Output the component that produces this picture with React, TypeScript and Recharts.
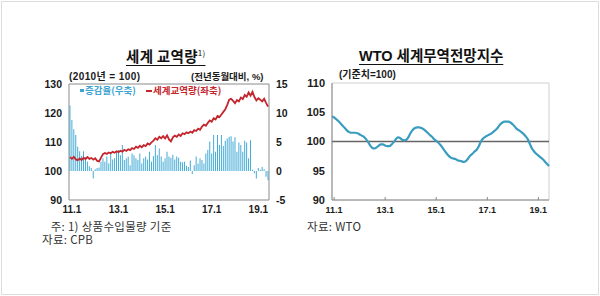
import React from "react";
import {
  ComposedChart,
  LineChart,
  Bar,
  Line,
  XAxis,
  YAxis,
  ReferenceArea,
  ReferenceLine,
} from "recharts";

// Monthly series from 2010.12 to 2019.6
const START_YEAR = 2010;
const START_MONTH = 12;

const tradeVolume: number[] = [
  104.8,
  104.2, 104.9, 104.0, 103.7, 104.3, 103.8, 104.6, 104.1, 104.8, 104.2, 104.5, 103.9,
  104.4, 103.5, 103.3, 104.6, 105.8, 106.2, 105.9, 106.4, 106.1, 106.6, 106.3, 106.8,
  106.5, 107.0, 106.7, 107.3, 106.9, 107.5, 107.2, 107.9, 107.6, 108.4, 108.0, 108.7,
  108.2, 108.9, 108.6, 109.5, 109.1, 109.9, 110.5, 111.3, 110.8, 111.8, 111.3, 112.0,
  111.2, 112.3, 110.9, 110.2, 111.6, 112.2, 111.8, 112.6, 112.1, 113.0, 112.7, 113.3,
  113.0, 113.6, 113.2, 114.1, 113.8, 114.6, 114.2, 115.3, 116.0, 115.6, 116.6, 117.4,
  117.0, 118.2, 117.8, 119.0, 118.6, 119.5, 120.4, 121.3, 122.8, 124.6, 124.9, 124.2,
  123.4, 124.5, 124.0, 125.3, 124.8, 126.2, 125.6, 127.1, 126.0, 127.3, 125.5, 124.3,
  125.1, 124.6, 124.0, 124.9, 123.5, 122.2,
];

const tradeGrowth: number[] = [
  11.3,
  8.8, 7.2, 6.2, 4.2, 3.4, 2.6, 3.4, 2.4, 1.6, 0.8, 0.5, -1.3,
  0.3, 0.5, 0.6, 1.6, 2.2, 1.6, 2.5, 1.3, 3.0, 2.0, 2.2, 3.3,
  3.6, 2.7, 4.5, 1.9, 2.2, 2.5, 1.0, 3.0, 2.7, 2.2, 1.9, 3.0,
  1.3, 2.2, 2.5, 2.0, 3.3, 1.6, 2.6, 4.5, 2.7, 3.9, 2.5, 1.6,
  2.2, 3.3, 2.5, 2.3, 2.8, 2.0, 2.5, 2.3, 1.6, 1.5, 1.6, 0.9,
  0.7, 1.8, -0.5, 1.0, 2.5, 1.3, 2.2, 1.9, 1.3, 3.0, 3.6, 5.1,
  3.0, 6.2, 3.3, 6.2, 4.5, 6.2, 4.3, 5.2, 5.6, 5.9, 6.0, 5.1,
  5.8, 3.3, 4.9, 4.5, 3.3, 5.2, 4.9, 2.2, 5.3, 0.2, -0.4, -1.3,
  0.5, 0.2, 0.7, 0.3, -1.0, -1.6,
];

const wtoIndex: number[] = [
  104.3,
  104.1, 103.8, 103.5, 103.1, 102.7, 102.3, 101.9, 101.6, 101.5, 101.5, 101.5, 101.4,
  101.2, 101.0, 100.8, 100.4, 99.9, 99.3, 98.9, 98.8, 99.0, 99.3, 99.5, 99.5,
  99.3, 99.2, 99.2, 99.5, 99.9, 100.4, 100.7, 100.6, 100.3, 100.2, 100.3, 100.8,
  101.5, 102.0, 102.3, 102.4, 102.4, 102.3, 102.1, 101.8, 101.5, 101.1, 100.8, 100.4,
  100.1, 99.8, 99.4, 98.9, 98.4, 97.9, 97.5, 97.2, 97.1, 97.0, 96.8, 96.7,
  96.6, 96.5, 96.7, 97.1, 97.6, 97.9, 98.3, 98.6, 99.2, 100.0, 100.5, 100.8,
  101.0, 101.2, 101.4, 101.7, 102.0, 102.4, 102.9, 103.2, 103.4, 103.4, 103.4, 103.2,
  102.9, 102.5, 102.1, 101.9, 101.6, 101.3, 100.9, 100.4, 99.6, 98.8, 98.3, 97.9,
  97.6, 97.3, 97.0, 96.6, 96.2, 95.8,
];

const xTicks = ["11.1", "13.1", "15.1", "17.1", "19.1"];
const leftTicks = [90, 100, 110, 120, 130];
const rightTicks = [-5, 0, 5, 10, 15];
const wtoTicks = [90, 95, 100, 105, 110];

const monthLabel = (i: number) => {
  const total = START_YEAR * 12 + (START_MONTH - 1) + i;
  const y = Math.floor(total / 12);
  const m = (total % 12) + 1;
  return `${String(y % 100).padStart(2, "0")}.${m}`;
};

const tradeData = tradeVolume.map((v, i) => ({
  label: monthLabel(i),
  volume: v,
  growth: tradeGrowth[i],
}));

const wtoData = wtoIndex.map((v, i) => ({ label: monthLabel(i), wto: v }));

const FONT = '"Liberation Sans", Arial, "Noto Sans CJK KR", sans-serif';
const KFONT = '"Noto Sans CJK KR", "Liberation Sans", sans-serif';

const RED = "#C4262E";
const BLUE = "#45ABD6";
const TEAL = "#3A9DBF";

const tickStyle = (size: number) => ({
  fontSize: size,
  fontWeight: 700,
  fill: "#1a1a1a",
  fontFamily: FONT,
});

const InnerTick = (props: any) => {
  const { x, y, payload } = props;
  return (
    <g>
      <line x1={x} x2={x} y1={y - 7} y2={y - 10} stroke="#888" strokeWidth={1} />
      <text
        x={x}
        y={y}
        dy="0.71em"
        textAnchor="middle"
        style={tickStyle(9)}
      >
        {payload.value}
      </text>
    </g>
  );
};

const abs = (style: React.CSSProperties): React.CSSProperties => ({
  position: "absolute",
  whiteSpace: "nowrap",
  lineHeight: 1,
  ...style,
});

export default function App() {
  return (
    <div
      style={{
        position: "absolute",
        left: 0,
        top: 0,
        width: 600,
        height: 296,
        background: "#fff",
        overflow: "hidden",
        fontFamily: KFONT,
      }}
    >
      <div
        style={{
          position: "absolute",
          left: 1,
          top: 1,
          width: 598,
          height: 294,
          border: "1px solid #dcdcdc",
          boxSizing: "border-box",
        }}
      />

      {/* Left chart */}
      <div style={{ position: "absolute", left: 0, top: 0 }}>
        <ComposedChart
          width={300}
          height={296}
          data={tradeData}
          margin={{ top: 84, right: 1, bottom: 76, left: 39 }}
          barCategoryGap="22%"
        >
          <XAxis
            dataKey="label"
            ticks={xTicks}
            interval={0}
            tickLine={false}
            axisLine={false}
            height={20}
            tickSize={4}
            tickMargin={2}
            tick={tickStyle(10)}
          />
          <YAxis
            yAxisId="l"
            domain={[90, 130]}
            ticks={leftTicks}
            width={30}
            tickLine={false}
            axisLine={false}
            tickSize={5}
            tickMargin={2}
            tick={tickStyle(10.5)}
          />
          <YAxis
            yAxisId="r"
            orientation="right"
            domain={[-5, 15]}
            ticks={rightTicks}
            width={30}
            tickLine={false}
            axisLine={false}
            tickSize={5}
            tickMargin={2}
            tick={tickStyle(10.5)}
          />
          <ReferenceArea
            yAxisId="l"
            y1={90}
            y2={130}
            fill="none"
            stroke="#8a8a8a"
            strokeWidth={1}
          />
          <Bar
            yAxisId="r"
            dataKey="growth"
            fill={BLUE}
            isAnimationActive={false}
          />
          <Line
            yAxisId="l"
            dataKey="volume"
            stroke={RED}
            strokeWidth={1.8}
            dot={false}
            type="linear"
            isAnimationActive={false}
          />
        </ComposedChart>
      </div>

      {/* Right chart */}
      <div style={{ position: "absolute", left: 300, top: 0 }}>
        <LineChart
          width={300}
          height={296}
          data={wtoData}
          margin={{ top: 83, right: 51, bottom: 76, left: 7 }}
        >
          <ReferenceArea
            y1={90}
            y2={110}
            fill="none"
            stroke="#cfcfcf"
            strokeWidth={1}
          />
          <XAxis
            dataKey="label"
            ticks={xTicks}
            interval={0}
            tickLine={false}
            axisLine={{ stroke: "#8a8a8a" }}
            height={20}
            tickSize={6}
            tickMargin={1}
            tick={<InnerTick />}
          />
          <YAxis
            domain={[90, 110]}
            ticks={wtoTicks}
            width={25}
            tickLine={false}
            axisLine={{ stroke: "#8a8a8a" }}
            tickSize={5}
            tickMargin={2}
            tick={tickStyle(11)}
          />
          <ReferenceLine y={100} stroke="#666" strokeWidth={1.5} />
          <Line
            dataKey="wto"
            stroke={TEAL}
            strokeWidth={2.2}
            dot={false}
            type="monotone"
            isAnimationActive={false}
          />
        </LineChart>
      </div>

      {/* Titles */}
      <div
        style={abs({
          left: 126,
          top: 49,
          fontSize: 14.5,
          fontWeight: 700,
          color: "#111",
          textDecoration: "underline",
          textUnderlineOffset: 3,
          letterSpacing: 0.3,
        })}
      >
        세계 교역량<sup style={{ fontSize: 8, fontWeight: 400, verticalAlign: 6 }}>1)</sup>
      </div>
      <div
        style={abs({
          left: 359,
          top: 49,
          fontSize: 14.5,
          fontWeight: 700,
          color: "#111",
          textDecoration: "underline",
          textUnderlineOffset: 3,
          fontFamily: FONT,
        })}
      >
        WTO 세계무역전망지수
      </div>

      {/* Units */}
      <div style={abs({ left: 69, top: 72, fontSize: 10, fontWeight: 700, color: "#1a1a1a", fontFamily: FONT, letterSpacing: 0.4 })}>
        (2010년 = 100)
      </div>
      <div style={abs({ left: 191, top: 72, fontSize: 9.5, fontWeight: 700, color: "#1a1a1a", fontFamily: FONT })}>
        (전년동월대비, %)
      </div>
      <div style={abs({ left: 339, top: 70, fontSize: 10, fontWeight: 700, color: "#1a1a1a", fontFamily: FONT })}>
        (기준치=100)
      </div>

      {/* Legend */}
      <div style={abs({ left: 80, top: 86, fontSize: 9.5, fontWeight: 700, color: "#3DA3D2", display: "flex", alignItems: "center" })}>
        <span style={{ display: "inline-block", width: 4, height: 3, background: "#3DA3D2", marginRight: 1 }} />
        증감율(우축)
      </div>
      <div style={abs({ left: 146, top: 86, fontSize: 9.5, fontWeight: 700, color: RED, display: "flex", alignItems: "center" })}>
        <span style={{ display: "inline-block", width: 6, height: 2, background: RED, marginRight: 1 }} />
        세계교역량(좌축)
      </div>

      {/* Notes */}
      <div
        style={{
          position: "absolute",
          left: 42,
          top: 220,
          fontSize: 11.5,
          lineHeight: "13px",
          color: "#333",
          letterSpacing: 0.3,
          whiteSpace: "pre",
        }}
      >
        {"   주: 1) 상품수입물량 기준\n자료: CPB"}
      </div>
      <div style={abs({ left: 307, top: 220, fontSize: 11.5, lineHeight: "13px", color: "#333", letterSpacing: 0.3 })}>
        자료: WTO
      </div>
    </div>
  );
}
